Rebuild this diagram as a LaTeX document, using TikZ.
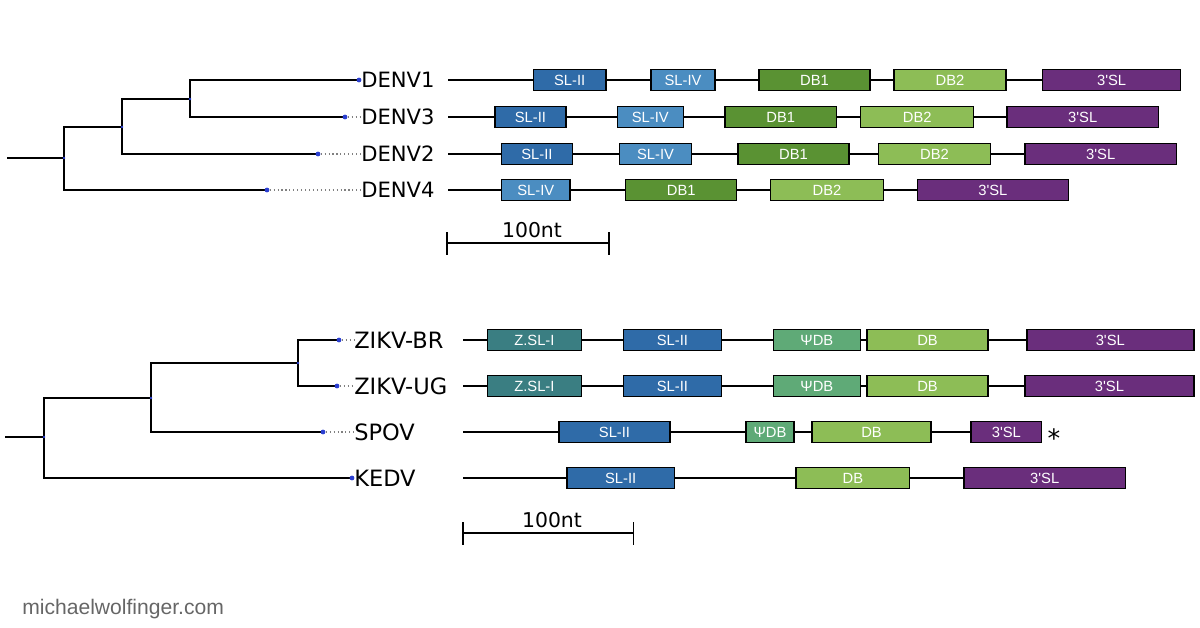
\documentclass[tikz,border=0pt]{standalone}
\usepackage{fontspec}
\setmainfont{DejaVu Sans}
\newfontfamily\boxfont{Liberation Sans}
\usetikzlibrary{backgrounds}
\definecolor{slii}{HTML}{2F6BA8}
\definecolor{sliv}{HTML}{4B8DC1}
\definecolor{dbone}{HTML}{5A9233}
\definecolor{dbtwo}{HTML}{8DBD56}
\definecolor{tsl}{HTML}{6A2E7C}
\definecolor{zsli}{HTML}{3A7E82}
\definecolor{psidb}{HTML}{5FAA77}
\definecolor{dotblue}{HTML}{2B3FD1}

\begin{document}
\begin{tikzpicture}[x=0.025cm, y=-0.025cm,
  branch/.style={line width=0.8pt},
  leafdot/.style={circle, fill=dotblue, inner sep=0pt, minimum size=0.12cm},
  innerdot/.style={circle, fill=dotblue, inner sep=0pt, minimum size=0.07cm},
  taxon/.style={anchor=west, inner sep=0pt, font=\fontsize{15}{18}\selectfont},
  guide/.style={dotted, gray, line width=0.8pt},
  seg/.style={draw=black, line width=1pt, inner sep=0pt, minimum height=0.52cm,
    minimum width={(#1)*0.025cm}, text=white, font=\boxfont\fontsize{10.5}{12}\selectfont},
  backbone/.style={line width=0.9pt},
  ntlabel/.style={anchor=base, inner sep=0pt, font=\fontsize{14.5}{17}\selectfont}]
\useasboundingbox (0,0) rectangle (1200,627);

% dengue tree
\coordinate (t0) at (7,158);
\node[innerdot] (t1) at (64,158) {};
\node[innerdot] (t2) at (122,127) {};
\node[innerdot] (t3) at (190,99) {};
\node[leafdot] (d1) at (359,80) {};
\node[leafdot] (d3) at (345,117) {};
\node[leafdot] (d2) at (318,154) {};
\node[leafdot] (d4) at (267,190) {};
\node[taxon] (DENV1) at (361,80) {DENV1};
\node[taxon] (DENV3) at (361,117) {DENV3};
\node[taxon] (DENV2) at (361,154) {DENV2};
\node[taxon] (DENV4) at (361,190) {DENV4};
\draw[guide] (d3) -- (DENV3);
\draw[guide] (d2) -- (DENV2);
\draw[guide] (d4) -- (DENV4);

% zika tree
\coordinate (z0) at (5,437);
\node[innerdot] (z1) at (44,437) {};
\node[innerdot] (z2) at (151,398) {};
\node[innerdot] (z3) at (298,363) {};
\node[leafdot] (zb) at (339,340) {};
\node[leafdot] (zu) at (337,386) {};
\node[leafdot] (sp) at (323,432) {};
\node[leafdot] (ke) at (352,478) {};
\node[taxon, font=\fontsize{16}{19}\selectfont] (ZIKVBR) at (354,340) {ZIKV-BR};
\node[taxon, font=\fontsize{16}{19}\selectfont] (ZIKVUG) at (354,386) {ZIKV-UG};
\node[taxon, font=\fontsize{16}{19}\selectfont] (SPOV) at (354,432) {SPOV};
\node[taxon, font=\fontsize{16}{19}\selectfont] (KEDV) at (354,478) {KEDV};
\draw[guide] (zb) -- (ZIKVBR);
\draw[guide] (zu) -- (ZIKVUG);
\draw[guide] (sp) -- (SPOV);

\begin{scope}[on background layer]
\draw[branch] (t0) -- (t1.center);
\draw[branch] (t2.center) -| (t1.center) |- (d4.center);
\draw[branch] (t3.center) -| (t2.center) |- (d2.center);
\draw[branch] (d1.center) -| (t3.center) |- (d3.center);
\draw[branch] (z0) -- (z1.center);
\draw[branch] (z2.center) -| (z1.center) |- (ke.center);
\draw[branch] (z3.center) -| (z2.center) |- (sp.center);
\draw[branch] (zb.center) -| (z3.center) |- (zu.center);
\end{scope}

% genome rows
\foreach \row/\y/\x/\segs in {
  g1/80/448/{533.6/605.8/SL-II/slii, 651/715/SL-IV/sliv, 759/870/DB1/dbone, 894/1006/DB2/dbtwo, 1042.5/1180.7/3\textquotesingle SL/tsl},
  g3/117/448/{494.8/566/SL-II/slii, 617.4/683.3/SL-IV/sliv, 725/836.5/DB1/dbone, 860.7/973.7/DB2/dbtwo, 1007/1158.4/3\textquotesingle SL/tsl},
  g2/154/448/{501.6/572.3/SL-II/slii, 619.4/691.6/SL-IV/sliv, 738/849/DB1/dbone, 878.7/990.2/DB2/dbtwo, 1025/1176.3/3\textquotesingle SL/tsl},
  g4/190/448/{501.6/570/SL-IV/sliv, 625.7/736.7/DB1/dbone, 770.6/883.5/DB2/dbtwo, 917.5/1068.2/3\textquotesingle SL/tsl},
  zbr/340/463/{487.3/581.5/Z.SL-I/zsli, 623.2/721.7/SL-II/slii, 773.3/860.4/ΨDB/psidb, 867/988/DB/dbtwo, 1026.8/1193.8/3\textquotesingle SL/tsl},
  zug/386/463/{487.3/581.5/Z.SL-I/zsli, 623.2/721.7/SL-II/slii, 773.3/860.4/ΨDB/psidb, 867/988/DB/dbtwo, 1025/1193.8/3\textquotesingle SL/tsl},
  spov/432/463/{559/670/SL-II/slii, 746/794/ΨDB/psidb, 812/931/DB/dbtwo, 971/1041.7/3\textquotesingle SL/tsl},
  kedv/478/463/{567/674.3/SL-II/slii, 796/909.7/DB/dbtwo, 964/1125.4/3\textquotesingle SL/tsl}}
{
  \coordinate (\row-0) at (\x,\y);
  \foreach \a/\b/\t/\c [count=\i, remember=\i as \p (initially 0)] in \segs {
    \node[seg=\b-\a, fill=\c] (\row-\i) at ({(\a+\b)/2},\y) {\t};
    \draw[backbone] (\row-\p) -- (\row-\i);
  }
}
\node[font=\fontsize{18}{20}\selectfont, anchor=base, inner sep=0pt] (star) at (1054,447) {*};

% scale bars
\coordinate (s1l) at (447,243);
\coordinate (s1r) at (609,243);
\draw[line width=0.8pt] (s1l) -- (s1r);
\draw[line width=0.8pt] (s1l)++(0,-11)--++(0,23);
\draw[line width=0.8pt] (s1r)++(0,-11)--++(0,23);
\node[ntlabel] (nt1) at (532,237) {100nt};
\coordinate (s2l) at (463,533);
\coordinate (s2r) at (633.5,533);
\draw[line width=0.8pt] (s2l) -- (s2r);
\draw[line width=0.8pt] (s2l)++(0,-11)--++(0,23);
\draw[line width=0.8pt] (s2r)++(0,-11)--++(0,23);
\node[ntlabel] (nt2) at (552,527.7) {100nt};

\node[anchor=base west, inner sep=0pt, text=black!60, font=\boxfont\fontsize{15}{18}\selectfont] (site) at (22,614) {michaelwolfinger.com};
\end{tikzpicture}
\end{document}
